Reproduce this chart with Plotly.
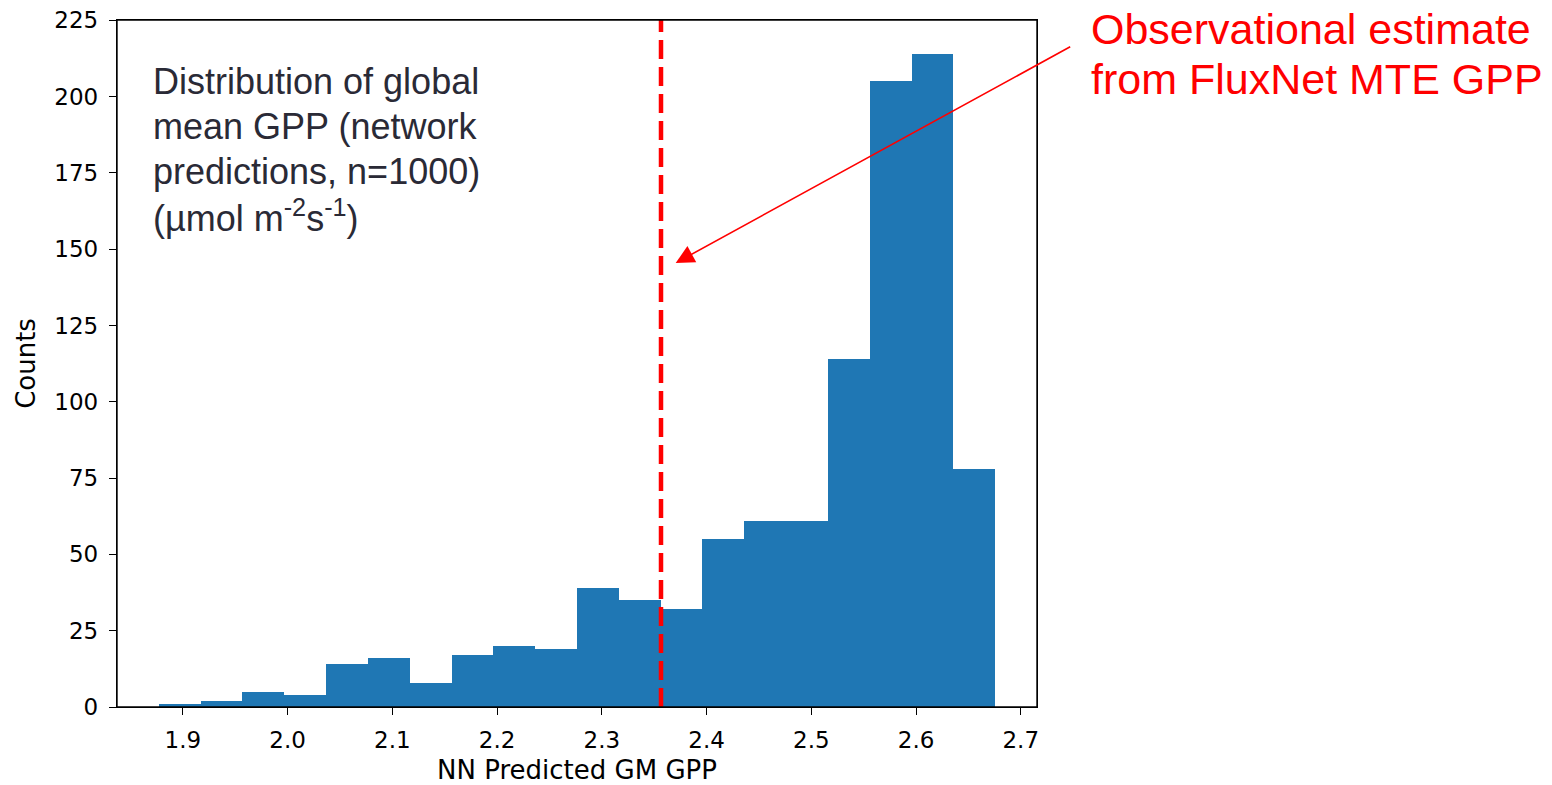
import plotly.graph_objects as go

# ---- data ----
bin_start = 1.877
bin_width = 0.03993
counts = [1, 2, 5, 4, 14, 16, 8, 17, 20, 19, 39, 35, 32, 55, 61, 61, 114, 205, 214, 78]
obs_estimate = 2.3565
x_ticks = [1.9, 2.0, 2.1, 2.2, 2.3, 2.4, 2.5, 2.6, 2.7]
y_ticks = [0, 25, 50, 75, 100, 125, 150, 175, 200, 225]
info_lines = ["Distribution of global", "mean GPP (network", "predictions, n=1000)",
              "(µmol m<sup>-2</sup>s<sup>-1</sup>)"]
obs_lines = ["Observational estimate", "from FluxNet MTE GPP"]

centers = [bin_start + bin_width * (i + 0.5) for i in range(len(counts))]

OFF = 8  # browser body margin
W, H = 1552 - 2 * OFF, 785 - OFF
L = 117 - OFF
T = 20 - OFF
R = W - (1037.5 - OFF)
B = H - (707 - OFF)
pw, ph = W - L - R, H - T - B


def px(xp):  # page pixel -> paper
    return (xp - OFF - L) / pw


def py(yp):
    return (H - B - (yp - OFF)) / ph


fig = go.Figure()
fig.add_trace(go.Bar(x=centers, y=counts, width=[bin_width] * len(counts),
                     marker=dict(color="#1f77b4", line=dict(width=0)),
                     showlegend=False, hoverinfo="x+y"))

fig.add_shape(type="line", xref="x", yref="paper", x0=obs_estimate, x1=obs_estimate,
              y0=0, y1=1, line=dict(color="#ff0000", width=4.5, dash="19px,8px"))
# axes frame
fig.add_shape(type="rect", xref="paper", yref="paper", x0=0, x1=1, y0=0, y1=1,
              line=dict(color="black", width=1.4), fillcolor="rgba(0,0,0,0)", layer="above")

annotations = []
for i, t in enumerate(info_lines):
    annotations.append(dict(text=t, xref="paper", yref="paper", x=px(151), y=py(81.5 + 45 * i),
                            xanchor="left", yanchor="middle", showarrow=False,
                            font=dict(family="Liberation Sans, Arial", size=36, color="#2a2a36")))
for i, t in enumerate(obs_lines):
    annotations.append(dict(text=t, xref="paper", yref="paper", x=px(1090), y=py(29 + 50 * i),
                            xanchor="left", yanchor="middle", showarrow=False,
                            font=dict(family="Liberation Sans, Arial", size=43, color="#ff0000")))
# arrow
annotations.append(dict(text="", xref="paper", yref="paper", x=px(676), y=py(263),
                        ax=1072 - 676, ay=46 - 263, axref="pixel", ayref="pixel",
                        showarrow=True, arrowhead=2, arrowsize=2.3, arrowwidth=1.6,
                        arrowcolor="#ff0000", standoff=0))

fig.update_layout(
    width=W, height=H, autosize=False,
    margin=dict(l=L, r=R, t=T, b=B, pad=0, autoexpand=False),
    plot_bgcolor="white", paper_bgcolor="white",
    bargap=0,
    annotations=annotations,
    font=dict(family="DejaVu Sans", size=22, color="black"),
    xaxis=dict(range=[1.8371, 2.7155], tickvals=x_ticks, ticktext=[f"{v:.1f}" for v in x_ticks],
               automargin=False, ticklabeloverflow="allow",
               showgrid=False, zeroline=False, showline=True, linecolor="black", linewidth=1.3,
               mirror=True, ticks="outside", ticklen=7, tickwidth=1.3, tickcolor="black",
               ticklabelstandoff=5,
               title=dict(text="NN Predicted GM GPP", standoff=12,
                          font=dict(family="DejaVu Sans", size=26)),
               tickfont=dict(family="DejaVu Sans", size=23)),
    yaxis=dict(range=[0, 225.1], tickvals=y_ticks, showgrid=False, zeroline=False,
               automargin=False, ticklabeloverflow="allow",
               showline=True, linecolor="black", linewidth=1.3, mirror=True,
               ticks="outside", ticklen=7, tickwidth=1.3, tickcolor="black",
               ticklabelstandoff=6,
               title=dict(text="Counts", standoff=11, font=dict(family="DejaVu Sans", size=26)),
               tickfont=dict(family="DejaVu Sans", size=23)),
)

fig.write_html("out.html")
